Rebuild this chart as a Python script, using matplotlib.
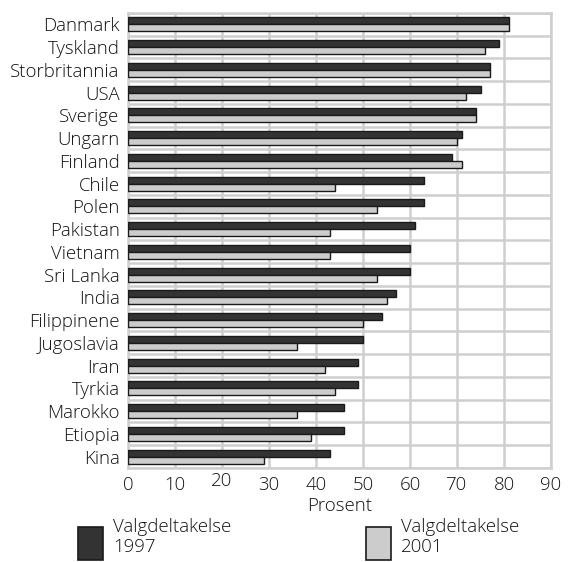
import matplotlib
matplotlib.use("Agg")
import matplotlib.pyplot as plt
import matplotlib.transforms as mtransforms
from matplotlib.patches import Rectangle
import numpy as np

countries = ["Danmark", "Tyskland", "Storbritannia", "USA", "Sverige", "Ungarn",
             "Finland", "Chile", "Polen", "Pakistan", "Vietnam", "Sri Lanka",
             "India", "Filippinene", "Jugoslavia", "Iran", "Tyrkia", "Marokko",
             "Etiopia", "Kina"]
v1997 = [81, 79, 77, 75, 74, 71, 69, 63, 63, 61, 60, 60, 57, 54, 50, 49, 49, 46, 46, 43]
v2001 = [81, 76, 77, 72, 74, 70, 71, 44, 53, 43, 43, 53, 55, 50, 36, 42, 44, 36, 39, 29]
xticks = [0, 10, 20, 30, 40, 50, 60, 70, 80, 90]
series_labels = ["Valgdeltakelse\n1997", "Valgdeltakelse\n2001"]
xlabel = "Prosent"

dark = "#333333"
light = "#cccccc"
edge = "#1a1a1a"
gridc = "#cfcfcf"

plt.rcParams["font.family"] = ["Open Sans", "DejaVu Sans"]
plt.rcParams["font.weight"] = "light"
plt.rcParams["axes.labelweight"] = "light"
FS = 13.4
TXT = "#111111"

W, H = 572, 562
fig = plt.figure(figsize=(W / 100, H / 100), dpi=100)
ax = fig.add_axes([128 / W, 1 - 468 / H, 423 / W, 455 / H])

y = np.arange(len(countries))
h = 0.31
ax.barh(y - h / 2, v1997, height=h, color=dark, edgecolor=edge, linewidth=1.0, zorder=3)
ax.barh(y + h / 2, v2001, height=h, color=light, edgecolor=edge, linewidth=1.0, zorder=3)

ax.set_xlim(0, 90)
ax.set_ylim(len(countries) - 0.5, -0.5)
ax.set_xticks(xticks)
ax.set_xticklabels([str(t) for t in xticks], fontsize=FS, color=TXT)
ax.set_yticks(y)
ax.set_yticklabels(countries, fontsize=FS, color=TXT)
ax.set_yticks(np.arange(len(countries) + 1) - 0.5, minor=True)
ax.tick_params(axis="both", which="both", length=0)
ax.tick_params(axis="x", pad=6)
ax.tick_params(axis="y", pad=6)
ax.grid(axis="x", which="major", color=gridc, linewidth=1.8, zorder=0)
ax.grid(axis="y", which="minor", color=gridc, linewidth=1.8, zorder=0)
ax.set_axisbelow(True)
for s in ax.spines.values():
    s.set_color(gridc)
    s.set_linewidth(1.8)
ax.set_xlabel(xlabel, fontsize=FS, labelpad=2, color=TXT)

# the "20" label sits slightly higher in the reference
lab = ax.get_xticklabels()[2]
lab.set_transform(lab.get_transform() + mtransforms.ScaledTranslation(0, 3 / 72, fig.dpi_scale_trans))

# legend (manual)
pix = mtransforms.Affine2D().scale(1 / W, 1 / H) + fig.transFigure
for (x0, col, lbl) in [(78, dark, series_labels[0]), (366, light, series_labels[1])]:
    fig.add_artist(Rectangle((x0, H - 560), 25, 33, facecolor=col, edgecolor=edge,
                             linewidth=1.2, transform=pix))
    fig.text((x0 + 35) / W, 1 - 518 / H, lbl, fontsize=FS, ha="left", va="top",
             linespacing=1.15, color=TXT)

fig.savefig("out.png", dpi=100)
